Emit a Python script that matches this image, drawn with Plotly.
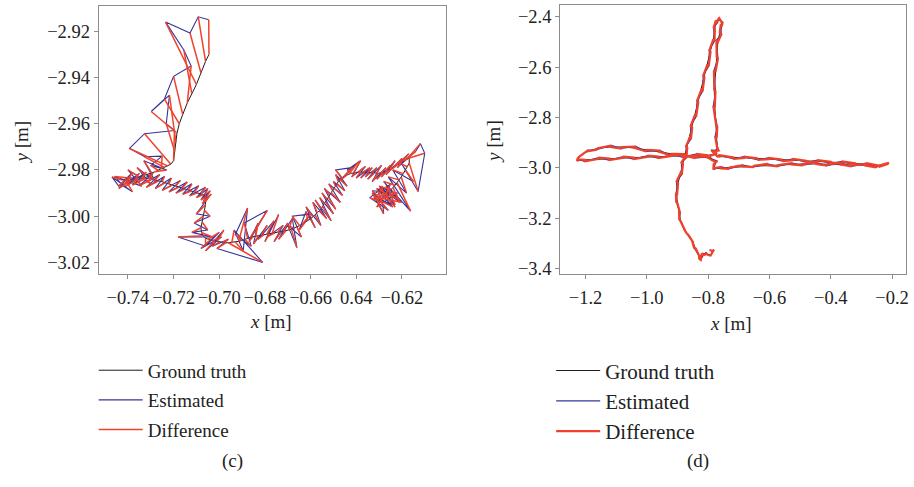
import plotly.graph_objects as go

# ---------------- Panel (c) data ----------------
gt_x_c = [-0.7045, -0.7060, -0.7080, -0.7100, -0.7120, -0.7140, -0.7160, -0.7175, -0.7185, -0.7190, -0.7195, -0.7200,
          -0.7212, -0.7226, -0.7240, -0.7254, -0.7268, -0.7282, -0.7296, -0.7310, -0.7324, -0.7338, -0.7352, -0.7366,
          -0.7380, -0.7396, -0.7412, -0.7430,
          -0.7415, -0.7400, -0.7385, -0.7370, -0.7355, -0.7340, -0.7325, -0.7310, -0.7295, -0.7280, -0.7265, -0.7250,
          -0.7235, -0.7220, -0.7205, -0.7190, -0.7176, -0.7162, -0.7148, -0.7134, -0.7120, -0.7106, -0.7092, -0.7080,
          -0.7070, -0.7062, -0.7058, -0.7055, -0.7054, -0.7055, -0.7057, -0.7060,
          -0.7060, -0.7065, -0.7070, -0.7075, -0.7080, -0.7078, -0.7070, -0.7060, -0.7050, -0.7040, -0.7030, -0.7020,
          -0.7010, -0.7000, -0.6985, -0.6970,
          -0.6960, -0.6945, -0.6930, -0.6915, -0.6900, -0.6888, -0.6876, -0.6864, -0.6852, -0.6840, -0.6828, -0.6816,
          -0.6804, -0.6792, -0.6780, -0.6768, -0.6756, -0.6744, -0.6732, -0.6720, -0.6708, -0.6696, -0.6684, -0.6672,
          -0.6660, -0.6648, -0.6636, -0.6624, -0.6612, -0.6600, -0.6590, -0.6580, -0.6570, -0.6562, -0.6554, -0.6547,
          -0.6540, -0.6534, -0.6528, -0.6522, -0.6516, -0.6510, -0.6504, -0.6498, -0.6492, -0.6486, -0.6480, -0.6472,
          -0.6462, -0.6452, -0.6442, -0.6432, -0.6422, -0.6412, -0.6402, -0.6392, -0.6382, -0.6372,
          -0.6362, -0.6352, -0.6342, -0.6332, -0.6322, -0.6312, -0.6302, -0.6292, -0.6282, -0.6272,
          -0.6262, -0.6252, -0.6242, -0.6232, -0.6222, -0.6212, -0.6202, -0.6192, -0.6180, -0.6168,
          -0.6168, -0.6176, -0.6185, -0.6194, -0.6203, -0.6212, -0.6221, -0.6230, -0.6239, -0.6248,
          -0.6256, -0.6264, -0.6272, -0.6279, -0.6286, -0.6292, -0.6298, -0.6303, -0.6306, -0.6306,
          -0.6302, -0.6296, -0.6289, -0.6282, -0.6275, -0.6268, -0.6262, -0.6256, -0.6250, -0.6245]
gt_y_c = [-2.9300, -2.9330, -2.9380, -2.9430, -2.9470, -2.9510, -2.9560, -2.9600, -2.9640, -2.9680, -2.9720, -2.9760,
          -2.9775, -2.9782, -2.9789, -2.9796, -2.9802, -2.9808, -2.9813, -2.9818, -2.9822, -2.9826, -2.9830, -2.9833,
          -2.9836, -2.9838, -2.9840, -2.9842,
          -2.9845, -2.9845, -2.9844, -2.9842, -2.9840, -2.9838, -2.9837, -2.9838, -2.9840, -2.9843, -2.9847, -2.9851,
          -2.9855, -2.9860, -2.9865, -2.9870, -2.9874, -2.9878, -2.9882, -2.9886, -2.9890, -2.9894, -2.9898, -2.9902,
          -2.9906, -2.9910, -2.9914, -2.9918, -2.9922, -2.9926, -2.9931, -2.9937,
          -2.9950, -2.9975, -3.0000, -3.0025, -3.0050, -3.0070, -3.0085, -3.0095, -3.0100, -3.0103, -3.0106, -3.0108,
          -3.0110, -3.0112, -3.0113, -3.0115,
          -3.0115, -3.0114, -3.0112, -3.0109, -3.0105, -3.0100, -3.0096, -3.0092, -3.0089, -3.0086, -3.0084, -3.0082,
          -3.0080, -3.0078, -3.0076, -3.0074, -3.0072, -3.0070, -3.0068, -3.0066, -3.0063, -3.0060, -3.0056, -3.0052,
          -3.0047, -3.0041, -3.0034, -3.0027, -3.0019, -3.0011, -3.0003, -2.9995, -2.9986, -2.9977, -2.9968, -2.9958,
          -2.9948, -2.9938, -2.9928, -2.9918, -2.9908, -2.9898, -2.9888, -2.9878, -2.9868, -2.9858, -2.9848, -2.9840,
          -2.9834, -2.9828, -2.9822, -2.9818, -2.9815, -2.9812, -2.9810, -2.9809, -2.9809, -2.9810,
          -2.9811, -2.9812, -2.9813, -2.9814, -2.9815, -2.9815, -2.9814, -2.9812, -2.9809, -2.9805,
          -2.9801, -2.9796, -2.9791, -2.9786, -2.9780, -2.9774, -2.9768, -2.9762, -2.9755, -2.9748,
          -2.9770, -2.9786, -2.9801, -2.9816, -2.9830, -2.9843, -2.9855, -2.9866, -2.9876, -2.9886,
          -2.9895, -2.9903, -2.9910, -2.9917, -2.9923, -2.9928, -2.9932, -2.9935, -2.9937, -2.9938,
          -2.9936, -2.9933, -2.9929, -2.9925, -2.9920, -2.9915, -2.9910, -2.9905, -2.9900, -2.9895]
est_x_c = [-0.7046, -0.7092, -0.7128, -0.7235, -0.7155, -0.7123, -0.7200, -0.7240, -0.7298, -0.7218, -0.7232, -0.7196,
           -0.7327, -0.7393, -0.7327, -0.7250, -0.7300, -0.7230, -0.7330, -0.7280, -0.7360, -0.7300, -0.7400, -0.7340,
           -0.7458, -0.7420, -0.7380, -0.7470,
           -0.7440, -0.7380, -0.7440, -0.7350, -0.7410, -0.7320, -0.7380, -0.7290, -0.7350, -0.7260, -0.7320, -0.7240,
           -0.7280, -0.7210, -0.7250, -0.7170, -0.7220, -0.7140, -0.7190, -0.7120, -0.7160, -0.7090, -0.7130, -0.7060,
           -0.7100, -0.7050, -0.7080, -0.7040, -0.7070, -0.7035, -0.7075, -0.7045,
           -0.7100, -0.7040, -0.7110, -0.7050, -0.7120, -0.7030, -0.7180, -0.7060, -0.7000, -0.7080, -0.6990, -0.7060,
           -0.6980, -0.7030, -0.6960, -0.7010,
           -0.6810, -0.6935, -0.6895, -0.6876, -0.6930, -0.6860, -0.6890, -0.6790, -0.6870, -0.6830, -0.6850, -0.6790,
           -0.6830, -0.6760, -0.6800, -0.6740, -0.6790, -0.6720, -0.6760, -0.6700, -0.6740, -0.6680, -0.6660, -0.6700,
           -0.6640, -0.6680, -0.6599, -0.6650, -0.6620, -0.6580, -0.6620, -0.6555, -0.6590, -0.6530, -0.6580, -0.6510,
           -0.6560, -0.6500, -0.6550, -0.6490, -0.6540, -0.6470, -0.6520, -0.6460, -0.6500, -0.6450, -0.6490, -0.6440,
           -0.6490, -0.6420, -0.6470, -0.6390, -0.6440, -0.6381, -0.6420, -0.6360, -0.6400, -0.6340,
           -0.6380, -0.6330, -0.6360, -0.6310, -0.6350, -0.6290, -0.6330, -0.6270, -0.6310, -0.6250,
           -0.6290, -0.6230, -0.6270, -0.6200, -0.6250, -0.6170, -0.6220, -0.6140, -0.6119, -0.6100,
           -0.6129, -0.6200, -0.6150, -0.6240, -0.6180, -0.6260, -0.6162, -0.6280, -0.6210, -0.6300,
           -0.6230, -0.6323, -0.6250, -0.6310, -0.6220, -0.6330, -0.6260, -0.6340, -0.6290, -0.6280,
           -0.6330, -0.6240, -0.6310, -0.6200, -0.6290, -0.6230, -0.6300, -0.6210, -0.6270, -0.6220]
est_y_c = [-2.9150, -2.9137, -2.9207, -2.9160, -2.9281, -2.9350, -2.9395, -2.9493, -2.9547, -2.9476, -2.9600, -2.9629,
           -2.9643, -2.9707, -2.9743, -2.9740, -2.9780, -2.9800, -2.9760, -2.9850, -2.9790, -2.9860, -2.9800, -2.9870,
           -2.9828, -2.9870, -2.9895, -2.9830,
           -2.9870, -2.9810, -2.9880, -2.9815, -2.9870, -2.9810, -2.9865, -2.9815, -2.9868, -2.9820, -2.9875, -2.9828,
           -2.9880, -2.9835, -2.9888, -2.9845, -2.9895, -2.9852, -2.9900, -2.9860, -2.9905, -2.9868, -2.9912, -2.9875,
           -2.9920, -2.9880, -2.9930, -2.9890, -2.9935, -2.9905, -2.9945, -2.9915,
           -2.9990, -3.0000, -3.0030, -3.0060, -3.0070, -3.0090, -3.0090, -3.0130, -3.0070, -3.0140, -3.0090, -3.0150,
           -3.0060, -3.0130, -3.0100, -3.0140,
           -3.0200, -3.0060, -3.0150, -2.9965, -3.0080, -3.0130, -3.0030, -2.9975, -3.0110, -3.0030, -3.0120, -3.0040,
           -3.0100, -3.0020, -3.0110, -2.9993, -3.0090, -3.0040, -3.0110, -3.0030, -3.0100, -3.0010, -3.0136, -3.0040,
           -3.0090, -3.0000, -2.9990, -3.0060, -2.9980, -3.0050, -2.9960, -3.0040, -2.9940, -3.0010, -2.9930, -3.0020,
           -2.9920, -2.9990, -2.9900, -2.9970, -2.9880, -2.9940, -2.9860, -2.9910, -2.9850, -2.9890, -2.9820, -2.9870,
           -2.9800, -2.9790, -2.9845, -2.9765, -2.9800, -2.9760, -2.9830, -2.9785, -2.9835, -2.9790,
           -2.9835, -2.9790, -2.9830, -2.9790, -2.9840, -2.9780, -2.9850, -2.9790, -2.9840, -2.9780,
           -2.9830, -2.9760, -2.9820, -2.9750, -2.9800, -2.9730, -2.9790, -2.9720, -2.9686, -2.9728,
           -2.9893, -2.9775, -2.9850, -2.9800, -2.9900, -2.9830, -2.9978, -2.9850, -2.9940, -2.9870,
           -2.9950, -2.9922, -2.9860, -2.9960, -2.9900, -2.9890, -2.9975, -2.9920, -2.9880, -2.9990,
           -2.9900, -2.9960, -2.9880, -2.9940, -2.9870, -2.9960, -2.9880, -2.9930, -2.9870, -2.9910]

# ---------------- Panel (d) data ----------------
gt_x_d = [-0.795, -0.785, -0.788, -0.800, -0.808, -0.815, -0.824, -0.830, -0.840, -0.852, -0.865, -0.880, -0.890, -0.895, -0.900,
          -0.905, -0.898, -0.890, -0.882, -0.875, -0.868, -0.860, -0.852, -0.843, -0.832, -0.822, -0.812, -0.802, -0.792, -0.783,
          -0.778, -0.776, -0.768, -0.758, -0.755, -0.762, -0.768, -0.772, -0.776, -0.780, -0.778, -0.774, -0.772, -0.770,
          -0.785, -0.775, -0.760,
          -0.720, -0.680, -0.640, -0.600, -0.560, -0.520, -0.480, -0.440, -0.400, -0.360, -0.320, -0.280, -0.245, -0.215,
          -0.250, -0.290, -0.330, -0.370, -0.410, -0.450, -0.490, -0.530, -0.570, -0.610, -0.650, -0.690, -0.730, -0.760, -0.778, -0.782, -0.770,
          -0.800, -0.840, -0.880, -0.920, -0.960, -1.000, -1.040, -1.080, -1.120, -1.160, -1.195, -1.220, -1.228,
          -1.200, -1.160, -1.120, -1.080, -1.040, -1.000, -0.960, -0.920, -0.880, -0.840, -0.800, -0.775]
gt_y_d = [-3.325, -3.330, -3.342, -3.345, -3.335, -3.345, -3.365, -3.350, -3.320, -3.290, -3.265, -3.240, -3.210, -3.175, -3.140,
          -3.100, -3.060, -3.020, -2.985, -2.955, -2.920, -2.880, -2.840, -2.790, -2.740, -2.690, -2.640, -2.590, -2.540, -2.490,
          -2.450, -2.420, -2.412, -2.418, -2.438, -2.465, -2.500, -2.560, -2.620, -2.690, -2.760, -2.830, -2.880, -2.925,
          -2.935, -2.948, -2.955,
          -2.958, -2.960, -2.962, -2.965, -2.967, -2.969, -2.972, -2.974, -2.976, -2.979, -2.982, -2.986, -2.990, -2.985,
          -2.993, -2.990, -2.988, -2.986, -2.985, -2.984, -2.984, -2.986, -2.988, -2.989, -2.991, -2.994, -2.998, -3.002, -3.000, -2.985, -2.972,
          -2.960, -2.955, -2.950, -2.944, -2.936, -2.928, -2.921, -2.917, -2.917, -2.922, -2.935, -2.955, -2.972,
          -2.968, -2.965, -2.963, -2.961, -2.959, -2.957, -2.955, -2.953, -2.951, -2.950, -2.950, -2.945]
est_x_d = [-0.789, -0.781, -0.792, -0.806, -0.803, -0.820, -0.829, -0.826, -0.846, -0.848, -0.870, -0.876, -0.894, -0.891, -0.904,
           -0.901, -0.903, -0.886, -0.887, -0.871, -0.872, -0.856, -0.857, -0.839, -0.836, -0.818, -0.816, -0.798, -0.796, -0.779,
           -0.782, -0.771, -0.764, -0.753, -0.759, -0.757, -0.773, -0.768, -0.781, -0.776, -0.783, -0.770, -0.777, -0.766,
           -0.790, -0.770, -0.765,
           -0.716, -0.684, -0.636, -0.604, -0.556, -0.524, -0.476, -0.444, -0.396, -0.364, -0.316, -0.284, -0.241, -0.211,
           -0.254, -0.286, -0.334, -0.366, -0.414, -0.446, -0.494, -0.526, -0.574, -0.606, -0.654, -0.686, -0.734, -0.756, -0.783, -0.777, -0.775,
           -0.796, -0.844, -0.876, -0.924, -0.956, -1.004, -1.036, -1.084, -1.116, -1.164, -1.191, -1.225, -1.223,
           -1.204, -1.156, -1.124, -1.076, -1.044, -0.996, -0.964, -0.916, -0.884, -0.836, -0.804, -0.771]
est_y_d = [-3.330, -3.324, -3.347, -3.340, -3.341, -3.339, -3.360, -3.356, -3.316, -3.296, -3.259, -3.246, -3.204, -3.181, -3.134,
           -3.106, -3.054, -3.026, -2.979, -2.961, -2.914, -2.886, -2.834, -2.796, -2.734, -2.696, -2.634, -2.596, -2.534, -2.496,
           -2.444, -2.426, -2.406, -2.424, -2.432, -2.471, -2.494, -2.566, -2.614, -2.696, -2.754, -2.836, -2.874, -2.931,
           -2.929, -2.954, -2.949,
           -2.964, -2.955, -2.968, -2.960, -2.973, -2.964, -2.978, -2.969, -2.982, -2.974, -2.988, -2.981, -2.995, -2.980,
           -2.998, -2.985, -2.994, -2.981, -2.991, -2.979, -2.990, -2.981, -2.994, -2.984, -2.997, -2.989, -3.004, -2.996, -3.006, -2.979, -2.978,
           -2.955, -2.961, -2.945, -2.950, -2.931, -2.934, -2.915, -2.923, -2.911, -2.928, -2.929, -2.961, -2.966,
           -2.974, -2.959, -2.969, -2.955, -2.965, -2.951, -2.961, -2.947, -2.957, -2.944, -2.956, -2.939]

# ---------------- Tick labels ----------------
xtick_vals_c = [-0.74, -0.72, -0.70, -0.68, -0.66, -0.64, -0.62]
xtick_text_c = ["\u22120.74", "\u22120.72", "\u22120.70", "\u22120.68", "\u22120.66", "0.64", "\u22120.62"]
ytick_vals_c = [-2.92, -2.94, -2.96, -2.98, -3.00, -3.02]
ytick_text_c = ["\u22122.92", "\u22122.94", "\u22122.96", "\u22122.98", "\u22123.00", "\u22123.02"]
xtick_vals_d = [-1.2, -1.0, -0.8, -0.6, -0.4, -0.2]
xtick_text_d = ["\u22121.2", "\u22121.0", "\u22120.8", "\u22120.6", "\u22120.4", "\u22120.2"]
ytick_vals_d = [-2.4, -2.6, -2.8, -3.0, -3.2, -3.4]
ytick_text_d = ["\u22122.4", "\u22122.6", "\u22122.8", "\u22123.0", "\u22123.2", "\u22123.4"]

series_names = ["Ground truth", "Estimated", "Difference"]

BLACK = "#1c1c1c"
BLUE = "#34349a"
RED = "#f2412b"
FONT = "Liberation Serif"


def rungs(gx, gy, ex, ey):
    xs, ys = [], []
    for a, b, c, d in zip(gx, gy, ex, ey):
        xs += [a, c, None]
        ys += [b, d, None]
    return xs, ys


def zigzag(gx, gy, ex, ey):
    xs, ys = [], []
    for a, b, c, d in zip(gx, gy, ex, ey):
        xs += [a, c]
        ys += [b, d]
    return xs, ys


fig = go.Figure()

# Panel (c)
dx_c, dy_c = rungs(gt_x_c, gt_y_c, est_x_c, est_y_c)
fig.add_trace(go.Scatter(x=gt_x_c, y=gt_y_c, mode="lines", name=series_names[0], line=dict(color=BLACK, width=1),
                         xaxis="x", yaxis="y", legend="legend", legendgroup="c0"))
fig.add_trace(go.Scatter(x=est_x_c, y=est_y_c, mode="lines", name=series_names[1], line=dict(color=BLUE, width=1.1),
                         xaxis="x", yaxis="y", legend="legend", legendgroup="c1"))
fig.add_trace(go.Scatter(x=dx_c, y=dy_c, mode="lines", name=series_names[2], line=dict(color=RED, width=1.5),
                         xaxis="x", yaxis="y", legend="legend", legendgroup="c2", connectgaps=False))

# Panel (d)
dx_d, dy_d = zigzag(gt_x_d, gt_y_d, est_x_d, est_y_d)
fig.add_trace(go.Scatter(x=gt_x_d, y=gt_y_d, mode="lines", name=series_names[0], line=dict(color=BLACK, width=1),
                         xaxis="x2", yaxis="y2", legend="legend2", legendgroup="d0"))
fig.add_trace(go.Scatter(x=est_x_d, y=est_y_d, mode="lines", name=series_names[1], line=dict(color=BLUE, width=1.2),
                         xaxis="x2", yaxis="y2", legend="legend2", legendgroup="d1"))
fig.add_trace(go.Scatter(x=dx_d, y=dy_d, mode="lines", name=series_names[2], line=dict(color=RED, width=2.2),
                         xaxis="x2", yaxis="y2", legend="legend2", legendgroup="d2"))

W, H = 914, 487
axis_common = dict(showline=True, mirror=True, linecolor="#8c8c8c", linewidth=1, ticks="outside", ticklen=4,
                   tickcolor="#8c8c8c", showgrid=False, zeroline=False,
                   tickfont=dict(family=FONT, size=18.5, color="#222222"))

fig.update_layout(
    width=W, height=H,
    margin=dict(l=0, r=0, t=0, b=0),
    paper_bgcolor="white", plot_bgcolor="white",
    xaxis=dict(domain=[99 / W, 447 / W], range=[-0.7528, -0.6009], anchor="y",
               tickvals=xtick_vals_c, ticktext=xtick_text_c, ticklabelstandoff=3, **axis_common),
    yaxis=dict(domain=[1 - 277 / H, 1 - 6 / H], range=[-3.0251, -2.909], anchor="x",
               tickvals=ytick_vals_c, ticktext=ytick_text_c, **axis_common),
    xaxis2=dict(domain=[562 / W, 909 / W], range=[-1.2826, -0.1545], anchor="y2",
                tickvals=xtick_vals_d, ticktext=xtick_text_d, ticklabelstandoff=3, **axis_common),
    yaxis2=dict(domain=[1 - 277 / H, 1 - 5 / H], range=[-3.421, -2.354], anchor="x2",
                tickvals=ytick_vals_d, ticktext=ytick_text_d, **axis_common),
    legend=dict(x=94 / W, y=1 - 355 / H, xanchor="left", yanchor="top", bgcolor="rgba(0,0,0,0)", itemwidth=44,
                font=dict(family=FONT, size=19, color="#222222"), tracegroupgap=2, traceorder="grouped"),
    legend2=dict(x=553 / W, y=1 - 354 / H, xanchor="left", yanchor="top", bgcolor="rgba(0,0,0,0)", itemwidth=44,
                 font=dict(family=FONT, size=21, color="#222222"), tracegroupgap=0, traceorder="grouped"),
    showlegend=True,
)

ann_font = dict(family=FONT, size=19, color="#222222")
common_ann = dict(xref="paper", yref="paper", showarrow=False, font=ann_font, xanchor="center", yanchor="middle")
fig.add_annotation(text="<i>y</i> [m]", x=22 / W, y=1 - 143 / H, textangle=-90, **common_ann)
fig.add_annotation(text="<i>x</i> [m]", x=272 / W, y=1 - 325 / H, **common_ann)
fig.add_annotation(text="<i>y</i> [m]", x=495 / W, y=1 - 143 / H, textangle=-90, **common_ann)
fig.add_annotation(text="<i>x</i> [m]", x=733 / W, y=1 - 327 / H, **common_ann)
fig.add_annotation(text="(c)", x=233 / W, y=1 - 466 / H, **common_ann)
fig.add_annotation(text="(d)", x=700 / W, y=1 - 466 / H, **common_ann)

fig.write_html("out.html")
